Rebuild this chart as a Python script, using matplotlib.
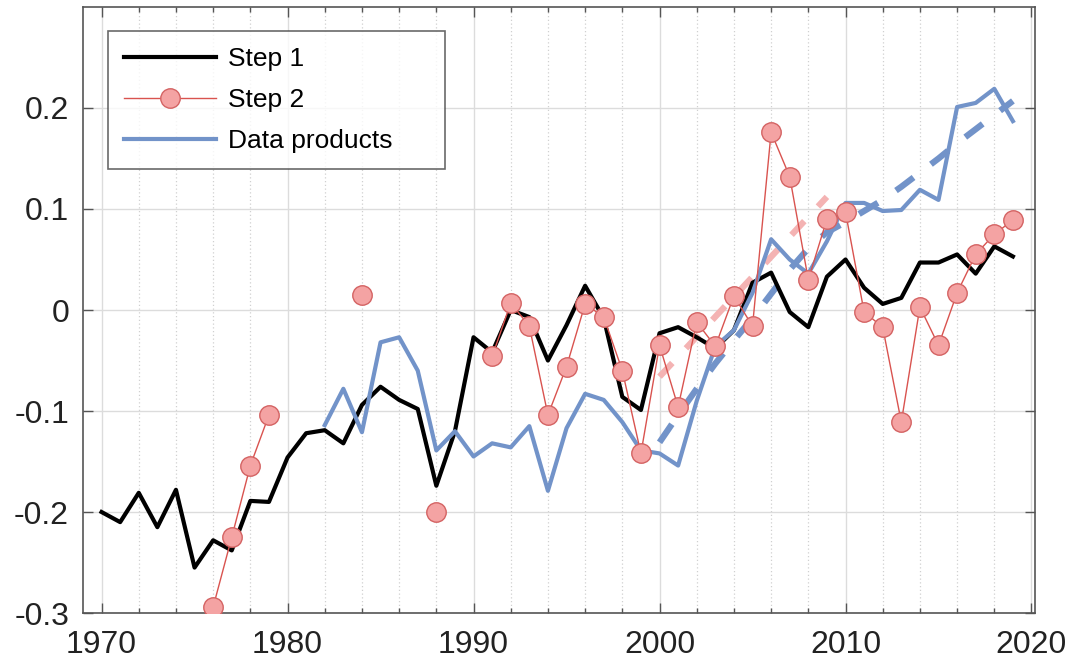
import numpy as np
import matplotlib
matplotlib.use("Agg")
import matplotlib.pyplot as plt
from matplotlib.ticker import MultipleLocator

# --- data ---
years_step1 = list(range(1970, 2020))
step1 = [-0.200, -0.210, -0.181, -0.215, -0.178, -0.255, -0.228, -0.238, -0.189, -0.190,
         -0.146, -0.122, -0.119, -0.132, -0.094, -0.076, -0.089, -0.098, -0.174, -0.120,
         -0.027, -0.042, 0.000, -0.007, -0.050, -0.015, 0.024, -0.008, -0.086, -0.099,
         -0.023, -0.017, -0.027, -0.038, -0.020, 0.027, 0.037, -0.002, -0.017, 0.033,
         0.050, 0.022, 0.006, 0.012, 0.047, 0.047, 0.055, 0.036, 0.063, 0.053]

# step 2 has gaps (nan)
years_step2 = list(range(1976, 2020))
step2 = [-0.294, -0.225, -0.154, -0.104, np.nan, np.nan, np.nan, np.nan, 0.015, np.nan,
         np.nan, np.nan, -0.200, np.nan, np.nan, -0.046, 0.007, -0.016, -0.104, -0.056,
         0.006, -0.007, -0.060, -0.142, -0.035, -0.096, -0.012, -0.036, 0.014, -0.016,
         0.176, 0.132, 0.030, 0.090, 0.097, -0.002, -0.017, -0.111, 0.003, -0.035,
         0.017, 0.055, 0.075, 0.089]

years_prod = list(range(1982, 2020))
products = [-0.114, -0.078, -0.121, -0.032, -0.027, -0.060, -0.139, -0.120, -0.145, -0.132,
            -0.136, -0.115, -0.179, -0.117, -0.083, -0.089, -0.111, -0.139, -0.142, -0.154,
            -0.090, -0.036, -0.020, 0.017, 0.070, 0.050, 0.036, 0.068, 0.106, 0.106,
            0.098, 0.099, 0.119, 0.109, 0.201, 0.205, 0.219, 0.187]

# trend lines
years_trend_prod = list(range(2000, 2020))
trend_prod = [-0.131, -0.104, -0.078, -0.053, -0.030, -0.008, 0.016, 0.040, 0.061, 0.077,
              0.087, 0.098, 0.109, 0.122, 0.136, 0.150, 0.165, 0.179, 0.193, 0.207]
years_trend_step2 = [2000, 2009]
trend_step2 = [-0.066, 0.112]

plt.rcParams['font.family'] = ['Liberation Sans', 'DejaVu Sans']
plt.rcParams['axes.unicode_minus'] = False

fig = plt.figure(figsize=(10.76, 6.71), dpi=100)
ax = fig.add_axes([0.0771, 0.0864, 0.885, 0.9032])

blue = '#7293c9'
red_line = '#d9534f'
red_face = '#f4a3a3'
red_edge = '#d46363'

ax.plot(years_trend_step2, trend_step2, color='#f4b3b3', lw=4.5, ls=(0, (3, 3.2)), zorder=2)
ax.plot(years_trend_prod, trend_prod, color=blue, lw=4.5, ls=(0, (3.5, 3.5)), zorder=2)
ax.plot(years_step1, step1, color='black', lw=3, label='Step 1', zorder=3)
ax.plot(years_step2, step2, color=red_line, lw=1, marker='o', ms=14,
        mfc=red_face, mec=red_edge, mew=1, label='Step 2', zorder=4)
ax.plot(years_prod, products, color=blue, lw=3, label='Data products', zorder=3)

ax.set_xlim(1969, 2020.2)
ax.set_ylim(-0.3, 0.3)
ax.xaxis.set_major_locator(MultipleLocator(10))
ax.xaxis.set_minor_locator(MultipleLocator(2))
ax.set_yticks([-0.3, -0.2, -0.1, 0, 0.1, 0.2])
ax.set_yticklabels(['-0.3', '-0.2', '-0.1', '0', '0.1', '0.2'])

ax.grid(which='major', color='#dcdcdc', lw=1, ls='-')
ax.grid(which='minor', axis='x', color='#d0d0d0', lw=0.9, ls=(0, (1, 2)))
ax.set_axisbelow(True)

for s in ax.spines.values():
    s.set_color('#555555')
    s.set_linewidth(1.2)
ax.tick_params(which='both', direction='in', top=True, right=True, colors='#555555',
               labelcolor='#222222', labelsize=23)
ax.tick_params(which='major', length=7, width=1)
ax.tick_params(which='minor', length=3.5, width=1)
ax.tick_params(axis='y', pad=10)
ax.tick_params(axis='x', pad=12)

# legend box placed like the reference (extra room on the right, as matlab does)
leg = ax.legend(loc='upper left', bbox_to_anchor=(0.026, 0.0, 0.354, 0.960), mode='expand',
                fontsize=19, frameon=True, fancybox=False, handlelength=3.5,
                labelspacing=0.64, borderpad=0.6, handletextpad=0.45, borderaxespad=0)
leg.get_frame().set_edgecolor('#444444')
leg.get_frame().set_linewidth(1.2)

fig.savefig('out.png', dpi=100)
